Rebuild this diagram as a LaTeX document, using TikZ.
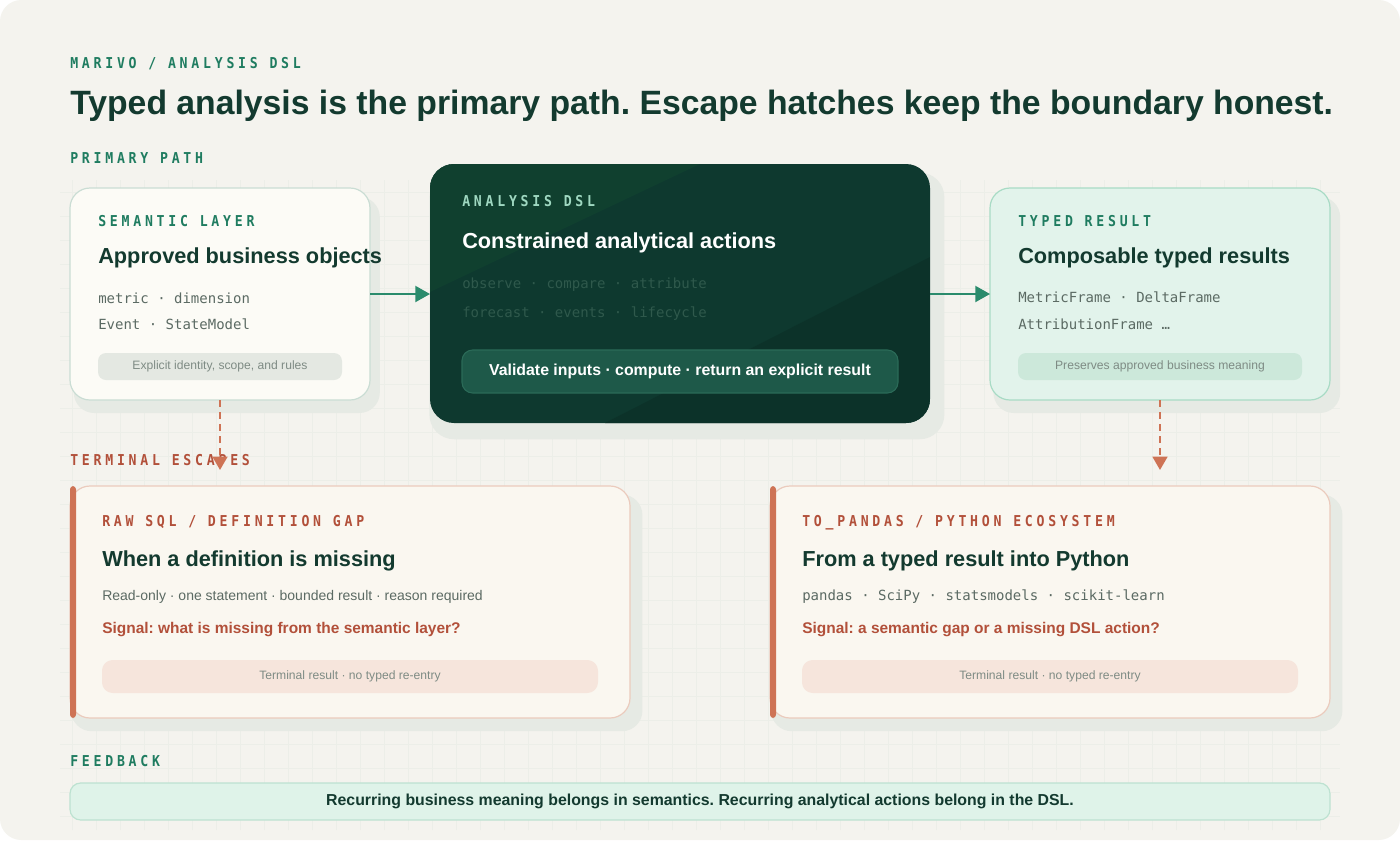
\documentclass[tikz,border=0pt]{standalone}
\usepackage{fontspec}
\setmainfont{Liberation Sans}
\setmonofont{DejaVu Sans Mono}
\newfontfamily\kickfont{DejaVu Sans Mono}[LetterSpace=25,FakeStretch=0.88]
\usetikzlibrary{calc,arrows.meta,shadows}
\frenchspacing

\definecolor{pagebg}{HTML}{F4F3EE}
\definecolor{gridc}{HTML}{ECEEE8}
\definecolor{kickgreen}{HTML}{1F7C60}
\definecolor{ink}{HTML}{133A2F}
\definecolor{semfill}{HTML}{FCFBF6}
\definecolor{semline}{HTML}{CADDD4}
\definecolor{graytxt}{HTML}{5B6A63}
\definecolor{pillgray}{HTML}{E4E8E2}
\definecolor{pilltxt}{HTML}{7E8B84}
\definecolor{dslfill}{HTML}{0E392F}
\definecolor{dsllight}{HTML}{10402F}
\definecolor{dsldark}{HTML}{0C3229}
\definecolor{dslmint}{HTML}{9FD8C1}
\definecolor{dslmono}{HTML}{2F594C}
\definecolor{dslpill}{HTML}{1E5949}
\definecolor{dslpilline}{HTML}{2B6B58}
\definecolor{resfill}{HTML}{E2F3EB}
\definecolor{resline}{HTML}{A8DBC5}
\definecolor{respill}{HTML}{CCE8DA}
\definecolor{flowgreen}{HTML}{2A8B6C}
\definecolor{escred}{HTML}{B2503A}
\definecolor{escbar}{HTML}{CE7355}
\definecolor{escfill}{HTML}{FAF7F0}
\definecolor{escline}{HTML}{EBCBBD}
\definecolor{escpill}{HTML}{F6E5DC}
\definecolor{fbfill}{HTML}{DFF3E9}
\definecolor{fbline}{HTML}{BDE2D1}
\definecolor{shadowc}{HTML}{E6EAE4}

\begin{document}
\begin{tikzpicture}[x=0.75pt,y=-0.75pt,
  box/.style={draw, line width=0.9pt, rounded corners=15pt, anchor=north west, inner sep=0, outer sep=0},
  boxshadow/.style={drop shadow={shadow xshift=5pt, shadow yshift=-8pt, shadow scale=1.02, fill=shadowc, opacity=1}},
  pill/.style={rounded corners=6pt, anchor=north west, inner sep=0, outer sep=0, font=\fontsize{9.1}{11}\selectfont, text=pilltxt},
  kicker/.style={anchor=base west, inner sep=0, font=\kickfont\bfseries\fontsize{11.25}{13}\selectfont, text=kickgreen},
  title/.style={anchor=base west, inner sep=0, font=\bfseries\fontsize{25.3}{30}\selectfont, text=ink},
  heading/.style={anchor=base west, inner sep=0, font=\bfseries\fontsize{16.3}{19}\selectfont, text=ink},
  monoline/.style={anchor=base west, inner sep=0, font=\ttfamily\fontsize{10.5}{12}\selectfont, text=graytxt},
  subline/.style={anchor=base west, inner sep=0, font=\fontsize{10.5}{12}\selectfont, text=graytxt},
  signal/.style={anchor=base west, inner sep=0, font=\bfseries\fontsize{11.6}{13}\selectfont, text=escred},
  flow/.style={draw=flowgreen, line width=1.5pt, -{Triangle[length=11pt,width=12pt]}},
  escape/.style={draw=escbar, line width=1.9pt, dash pattern=on 5pt off 4pt, -{Triangle[length=10pt,width=11pt]}}]
\useasboundingbox (0,0) rectangle (1400,840);
\fill[white] (0,0) rectangle (1400,840);
\fill[pagebg, rounded corners=16pt] (0,0) rectangle (1400,840);
\draw[gridc, line width=0.4pt, step=18pt] (60,180) grid (1340,830);

\node[kicker] (brand) at (70,68) {MARIVO / ANALYSIS DSL};
\node[title] (headline) at (70,114) {Typed analysis is the primary path. Escape hatches keep the boundary honest.};
\node[kicker] (primlabel) at (70,163) {PRIMARY PATH};

\node[box, boxshadow, draw=semline, fill=semfill, minimum width=225pt, minimum height=159pt] (sem) at (70,188) {};
\node[kicker] (semkick) at ($(sem.north west)+(28,38)$) {SEMANTIC LAYER};
\node[heading] (semhead) at ($(sem.north west)+(28,75)$) {Approved business objects};
\node[monoline] (semobj) at ($(sem.north west)+(28,115)$) {metric · dimension};
\node[monoline] (semtypes) at ($(sem.north west)+(28,141)$) {Event · StateModel};
\node[pill, fill=pillgray, minimum width=183pt, minimum height=20.25pt] (sempill) at ($(sem.north west)+(28,165)$) {Explicit identity, scope, and rules};

\node[box, draw=none, fill=dslfill, rounded corners=18pt, minimum width=375pt, minimum height=194.25pt,
  drop shadow={shadow xshift=5pt, shadow yshift=-9pt, shadow scale=1.03, fill=shadowc, opacity=1}] (dsl) at (430,164) {};
\begin{scope}
\clip[rounded corners=18pt] (dsl.north west) rectangle (dsl.south east);
\fill[dsllight] (dsl.north west) -- ($(dsl.north west)+(270,0)$) -- ($(dsl.north west)+(0,128)$) -- cycle;
\fill[dsldark] (dsl.south east) -- ($(dsl.south east)+(0,-166)$) -- ($(dsl.south east)+(-325,0)$) -- cycle;
\end{scope}
\node[kicker, text=dslmint] (dslkick) at ($(dsl.north west)+(32,42)$) {ANALYSIS DSL};
\node[heading, text=white] (dslhead) at ($(dsl.north west)+(32,84)$) {Constrained analytical actions};
\node[monoline, text=dslmono] (dslops) at ($(dsl.north west)+(32,124)$) {observe · compare · attribute};
\node[monoline, text=dslmono] (dslmore) at ($(dsl.north west)+(32,153)$) {forecast · events · lifecycle};
\node[pill, draw=dslpilline, line width=0.8pt, fill=dslpill, text=white, font=\bfseries\fontsize{11.9}{14}\selectfont,
  rounded corners=8pt, minimum width=327pt, minimum height=32.25pt] (dslpill) at ($(dsl.north west)+(32,186)$) {Validate inputs · compute · return an explicit result};

\node[box, boxshadow, draw=resline, fill=resfill, minimum width=255pt, minimum height=159pt] (res) at (990,188) {};
\node[kicker] (reskick) at ($(res.north west)+(28,38)$) {TYPED RESULT};
\node[heading] (reshead) at ($(res.north west)+(28,75)$) {Composable typed results};
\node[monoline] (resframes) at ($(res.north west)+(28,114)$) {MetricFrame · DeltaFrame};
\node[monoline] (resmore) at ($(res.north west)+(28,141)$) {AttributionFrame …};
\node[pill, fill=respill, minimum width=213pt, minimum height=20.25pt] (respill) at ($(res.north west)+(28,165)$) {Preserves approved business meaning};

\draw[flow] (sem.east) -- (sem.east -| dsl.west);
\draw[flow] (dsl.east |- res.west) -- (res.west);

\node[kicker, text=escred] (esclabel) at (70,465) {TERMINAL ESCAPES};
\coordinate (semdrop) at ($(sem.south)+(0,70)$);
\coordinate (resdrop) at ($(res.south)+(0,70)$);
\draw[escape] (sem.south) -- (semdrop);
\draw[escape] (res.south) -- (resdrop);

\node[box, boxshadow, draw=escline, fill=escfill, minimum width=420pt, minimum height=174pt] (rawsql) at (70,486) {};
\fill[escbar, rounded corners=2.5pt] (rawsql.north west) rectangle ($(rawsql.south west)+(6,0)$);
\node[kicker, text=escred] (sqlkick) at ($(rawsql.north west)+(32,40)$) {RAW SQL / DEFINITION GAP};
\node[heading] (sqlhead) at ($(rawsql.north west)+(32,80)$) {When a definition is missing};
\node[subline] (sqlrules) at ($(rawsql.north west)+(32,114)$) {Read-only · one statement · bounded result · reason required};
\node[signal] (sqlsignal) at ($(rawsql.north west)+(32,147)$) {Signal: what is missing from the semantic layer?};
\node[pill, fill=escpill, rounded corners=8pt, minimum width=372pt, minimum height=24.75pt] (sqlpill) at ($(rawsql.north west)+(32,174)$) {Terminal result · no typed re-entry};

\node[box, boxshadow, draw=escline, fill=escfill, minimum width=420pt, minimum height=174pt] (topandas) at (770,486) {};
\fill[escbar, rounded corners=2.5pt] (topandas.north west) rectangle ($(topandas.south west)+(6,0)$);
\node[kicker, text=escred] (pdkick) at ($(topandas.north west)+(32,40)$) {TO\_PANDAS / PYTHON ECOSYSTEM};
\node[heading] (pdhead) at ($(topandas.north west)+(32,80)$) {From a typed result into Python};
\node[monoline] (pdlibs) at ($(topandas.north west)+(32,114)$) {pandas · SciPy · statsmodels · scikit-learn};
\node[signal] (pdsignal) at ($(topandas.north west)+(32,147)$) {Signal: a semantic gap or a missing DSL action?};
\node[pill, fill=escpill, rounded corners=8pt, minimum width=372pt, minimum height=24.75pt] (pdpill) at ($(topandas.north west)+(32,174)$) {Terminal result · no typed re-entry};

\node[kicker] (fblabel) at (70,766) {FEEDBACK};
\node[box, draw=fbline, fill=fbfill, rounded corners=8pt, minimum width=945pt, minimum height=27.75pt,
  font=\bfseries\fontsize{11.9}{14}\selectfont, text=ink] (fbbar) at (70,783) {Recurring business meaning belongs in semantics. Recurring analytical actions belong in the DSL.};
\end{tikzpicture}
\end{document}
